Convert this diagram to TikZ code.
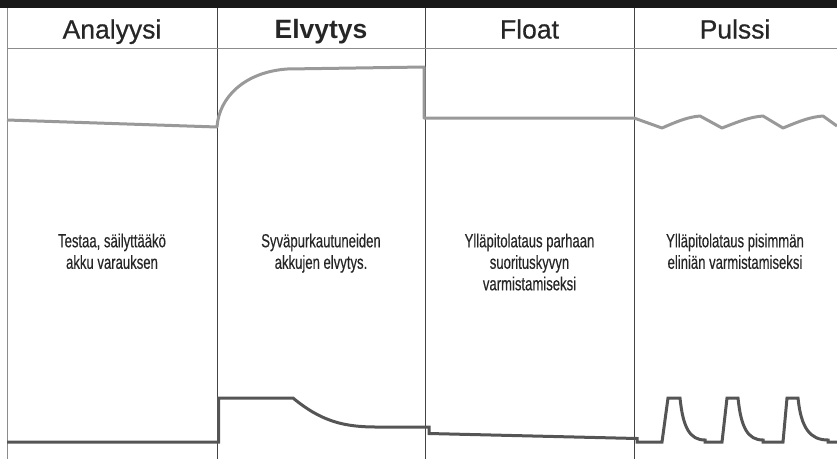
\documentclass[tikz,border=0pt]{standalone}
\usepackage{fontspec}
\setmainfont{Liberation Sans}
\newfontfamily\bodyfont[FakeStretch=0.69,FakeBold=0.3]{Liberation Sans}
\newfontfamily\headfont[FakeBold=0.6]{Liberation Sans}
\definecolor{topc}{HTML}{999999}
\definecolor{botc}{HTML}{555555}
\definecolor{gridc}{HTML}{444444}
\begin{document}
\begin{tikzpicture}[x=1pt,y=-1pt,
  head/.style={anchor=base,font=\headfont\fontsize{26.5}{30}\selectfont,text=black!85},
  body/.style={anchor=north,align=center,font=\bodyfont\fontsize{19}{21.5}\selectfont,text=black!85},
  topline/.style={draw=topc,line width=3pt,line join=round},
  botline/.style={draw=botc,line width=3pt,line join=miter},
  grid/.style={draw=gridc,line width=0.9pt}]
\useasboundingbox (0,0) rectangle (837,459);
\fill[black!90] (0,0) rectangle (837,8);
% grid
\draw[draw=black!45,line width=1.5pt] (7.5,8) -- (7.5,459);
\draw[grid] (217,8) -- (217,459);
\draw[grid] (425,8) -- (425,459);
\draw[grid] (634,8) -- (634,459);
\draw[draw=black!45,line width=1.2pt] (7,48.5) -- (837,48.5);
% headers
\node[head] (h1) at (112,38.5) {Analyysi};
\node[head,font=\fontsize{26.5}{30}\selectfont\bfseries] (h2) at (321,38.5) {Elvytys};
\node[head] (h3) at (529.5,38.5) {Float};
\node[head] (h4) at (735,38.5) {Pulssi};
% body texts
\node[body] (t1) at (112,230) {Testaa, säilyttääkö\\akku varauksen};
\node[body] (t2) at (321,230) {Syväpurkautuneiden\\akkujen elvytys.};
\node[body] (t3) at (529.5,230) {Ylläpitolataus parhaan\\suorituskyvyn\\varmistamiseksi};
\node[body] (t4) at (735,230) {Ylläpitolataus pisimmän\\eliniän varmistamiseksi};
% upper curve
\draw[topline] (7,120) -- (217,127)
  .. controls (219,97) and (245,72) .. (287,69) -- (424,67) -- (424,118) -- (634,118)
  -- (662,128) .. controls (678,121) and (688,117) .. (700,116)
  -- (722,128) .. controls (740,121) and (750,117) .. (763,116)
  -- (783,128) .. controls (800,121) and (810,117) .. (823,116)
  -- (837,126);
% lower curve
\draw[botline] (7,442) -- (218.5,442) -- (218.5,398) -- (293,398)
  .. controls (322,422) and (345,427) .. (377,427) -- (429,427) -- (429,433.5)
  -- (637,438.5) -- (637,442) -- (662,442) -- (668,398) -- (680,398)
  .. controls (683,428) and (690,440) .. (705,440) -- (705,442) -- (722,442)
  -- (727,398) -- (738,398)
  .. controls (741,428) and (748,440) .. (763,440) -- (763,442) -- (783,442)
  -- (787,398) -- (798,398)
  .. controls (801,428) and (810,440) .. (828,440) -- (828,442) -- (837,442);
\end{tikzpicture}
\end{document}
